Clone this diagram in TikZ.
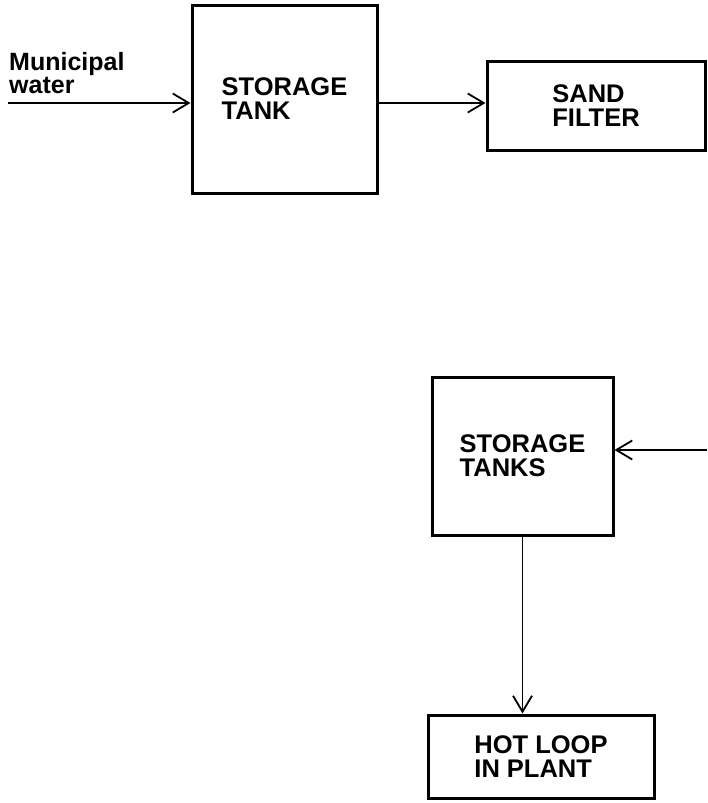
\documentclass[tikz,border=0pt]{standalone}
\usepackage{fontspec}
\setmainfont{Liberation Sans}
\usetikzlibrary{arrows.meta, positioning, calc}

\begin{document}
\begin{tikzpicture}[x=1pt, y=-1pt,
        box/.style={rectangle, draw=black, line width=3pt, align=left,
                    inner sep=0pt, font=\fontsize{25.5}{24}\selectfont\bfseries},
        arr/.style={-{Straight Barb[length=16pt, width=19pt]}, line width=1.8pt}
      ]
      \useasboundingbox (0,0) rectangle (707,803);

      \node[box, minimum width=185pt, minimum height=188pt] (tank) at (284.5,99) {STORAGE\\TANK};
      \node[box, minimum width=218pt, minimum height=89pt]  (filter) at (596,105.5) {SAND\\FILTER};
      \node[box, minimum width=181pt, minimum height=158pt] (tanks) at (522.5,456) {STORAGE\\TANKS};
      \node[box, minimum width=226pt, minimum height=83pt]  (loop) at (541,756.5) {HOT LOOP\\IN PLANT};

      \node[anchor=north west, inner sep=0pt, align=left,
            font=\fontsize{25}{23.5}\selectfont\bfseries] (water) at (9,52) {Municipal\\water};

      \coordinate (src) at (8,103);
      \coordinate (feed) at (707,450);

      \draw[arr] (src) -- (src -| tank.west);
      \draw[arr] (tank.east |- src) -- (filter.west |- src);
      \draw[arr] (feed) -- (feed -| tanks.east);
      \draw[arr] (tanks.south) -- (tanks.south |- loop.north);
    \end{tikzpicture}
\end{document}
